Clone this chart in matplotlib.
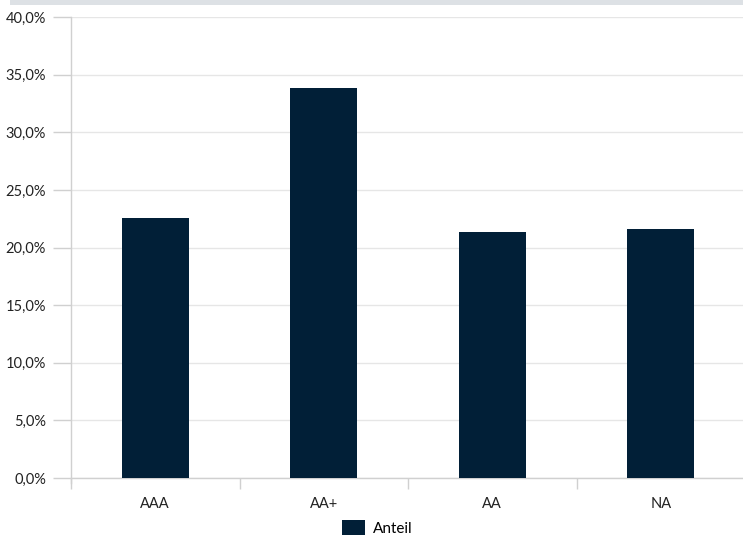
import matplotlib.pyplot as plt
from matplotlib.patches import Rectangle
from matplotlib.ticker import FuncFormatter, MultipleLocator

plt.rcParams['font.family'] = ['Lato', 'DejaVu Sans']

categories = ['AAA', 'AA+', 'AA', 'NA']
anteil = [22.6, 33.9, 21.4, 21.6]

W, H = 743, 535
fig = plt.figure(figsize=(W / 100, H / 100), dpi=100)

# light band along the top edge
fig.patches.append(Rectangle((10 / W, 1 - 5 / H), 1, 5 / H, transform=fig.transFigure,
                             facecolor='#dde1e5', edgecolor='none'))

ax = fig.add_axes([71 / W, 57 / H, (745 - 71) / W, (478 - 17.3) / H])
x = list(range(len(categories)))
ax.bar(x, anteil, width=0.4, color='#011f37', label='Anteil', zorder=3)

ax.set_xlim(-0.5, len(categories) - 0.5)
ax.set_ylim(0, 40)
ax.yaxis.set_major_locator(MultipleLocator(5))
ax.yaxis.set_major_formatter(FuncFormatter(lambda v, p: f'{v:.1f}%'.replace('.', ',')))
ax.grid(axis='y', color='#e6e6e6', linewidth=1, zorder=0)

ax.set_xticks(x)
ax.set_xticklabels(categories)
ax.set_xticks([i - 0.5 for i in range(len(categories) + 1)], minor=True)
ax.tick_params(axis='x', which='major', length=0, pad=14, labelsize=10.5, labelcolor='#222222')
ax.tick_params(axis='x', which='minor', length=8, color='#d0d0d0', width=1)
ax.tick_params(axis='y', length=13, color='#d0d0d0', width=1, labelsize=10.5,
               labelcolor='#222222', pad=5)

for side in ['top', 'right']:
    ax.spines[side].set_visible(False)
for side in ['left', 'bottom']:
    ax.spines[side].set_color('#d0d0d0')
    ax.spines[side].set_linewidth(1)
ax.spines['left'].set_bounds(-0.4, 40)

fig.legend(loc='center', bbox_to_anchor=(377 / W, 1 - 528 / H), frameon=False,
           handlelength=1.5, handleheight=1.1, handletextpad=0.5, fontsize=11)

fig.savefig('out.png', dpi=100)
